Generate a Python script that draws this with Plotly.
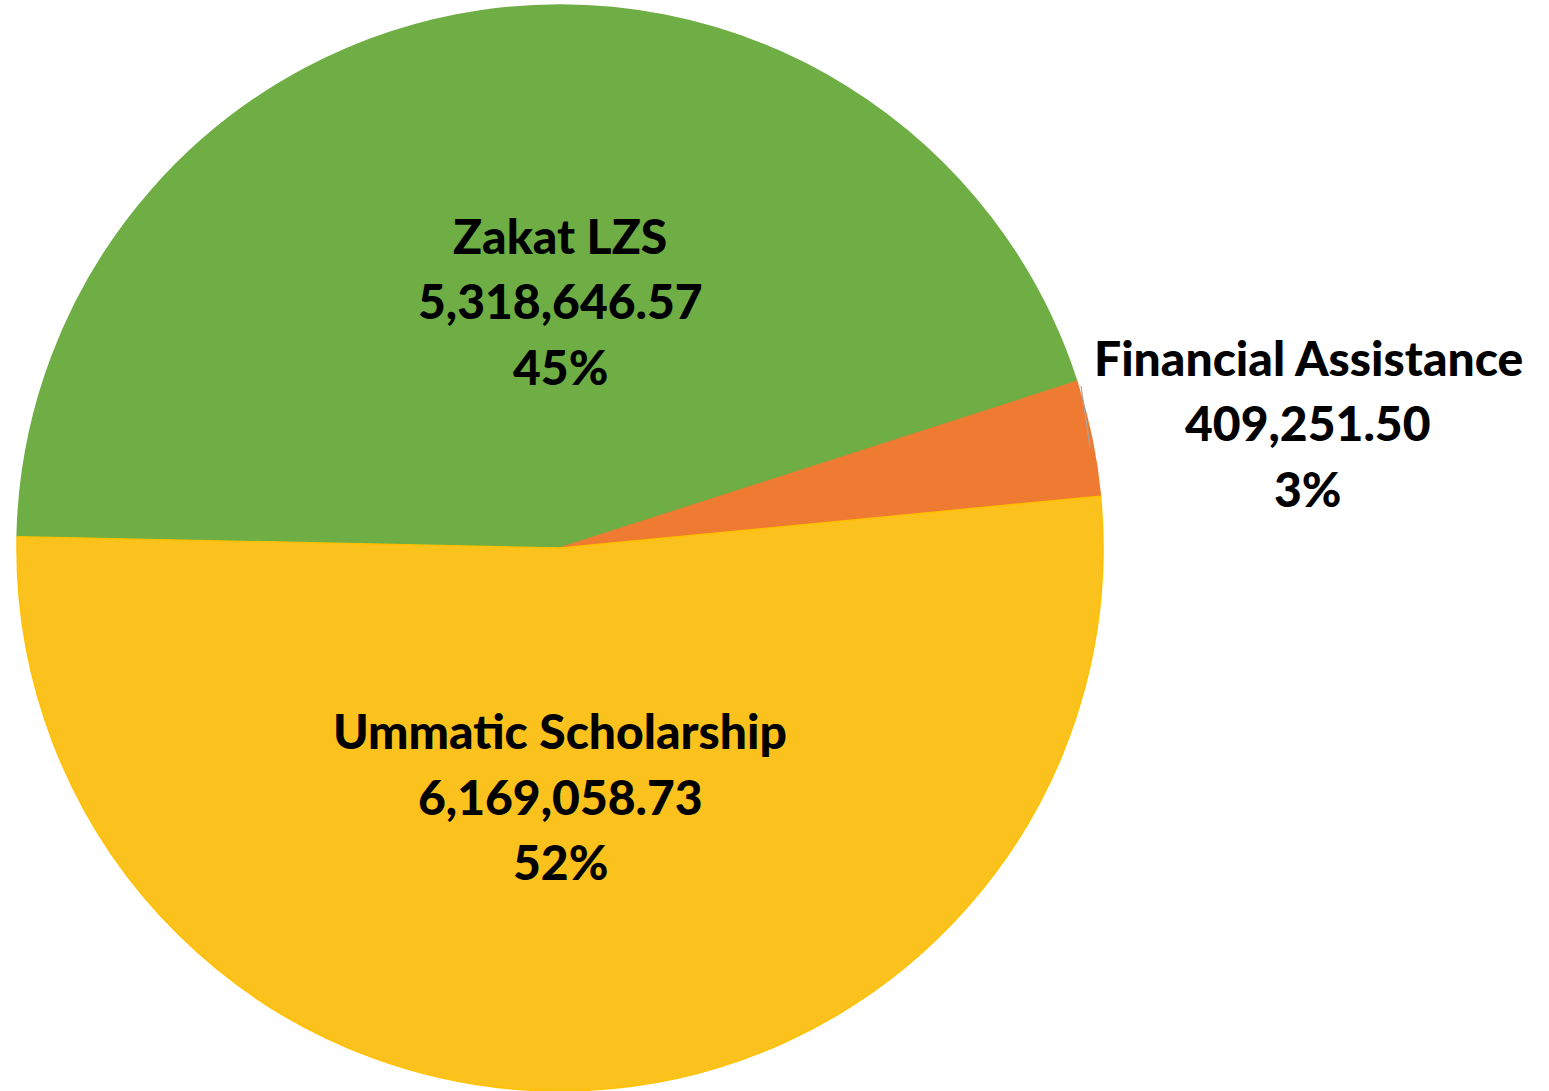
import plotly.graph_objects as go

categories = ["Zakat LZS", "Financial Assistance", "Ummatic Scholarship"]
values = [5318646.57, 409251.50, 6169058.73]
value_labels = ["5,318,646.57", "409,251.50", "6,169,058.73"]
pct_labels = ["45%", "3%", "52%"]
colors = ["#6FAE44", "#EF7A31", "#FBC21E"]
border_colors = ["#6FAE44", "#EF7A31", "#FFC000"]

W, H = 1549, 1091
cx, cy, r = 560, 548, 543

fig = go.Figure(go.Pie(
    labels=categories,
    values=values,
    sort=False,
    direction="clockwise",
    rotation=-88.8,
    textinfo="none",
    hoverinfo="label+value+percent",
    marker=dict(colors=colors, line=dict(color=border_colors, width=1.5)),
    domain=dict(x=[(cx - r) / W, (cx + r) / W], y=[(H - cy - r) / H, (H - cy + r) / H]),
    showlegend=False,
))

# label text centers (pixel) for each slice: lines at three rows
label_pos = [(560, [236, 301, 366]), (1308, [357, 423, 488]), (560, [730, 796, 861])]
font = dict(family="Lato", size=48, color="#000000", weight=900)
for i, (lx, ys) in enumerate(label_pos):
    texts = [categories[i], value_labels[i], pct_labels[i]]
    for t, yy in zip(texts, ys):
        fig.add_annotation(
            x=lx / W, y=1 - yy / H, xref="paper", yref="paper",
            text=t, showarrow=False, font=font,
            xanchor="center", yanchor="middle",
        )

# leader line for the small slice
fig.add_shape(type="line", xref="paper", yref="paper",
              x0=1081 / W, y0=1 - 386 / H, x1=1090 / W, y1=1 - 447 / H,
              line=dict(color="#A6A6A6", width=1.2))

fig.update_layout(
    width=W, height=H,
    margin=dict(l=0, r=0, t=0, b=0),
    paper_bgcolor="white", plot_bgcolor="white",
)
fig.write_html("out.html", config={"displayModeBar": False},
               post_script="document.body.style.margin='0';")
